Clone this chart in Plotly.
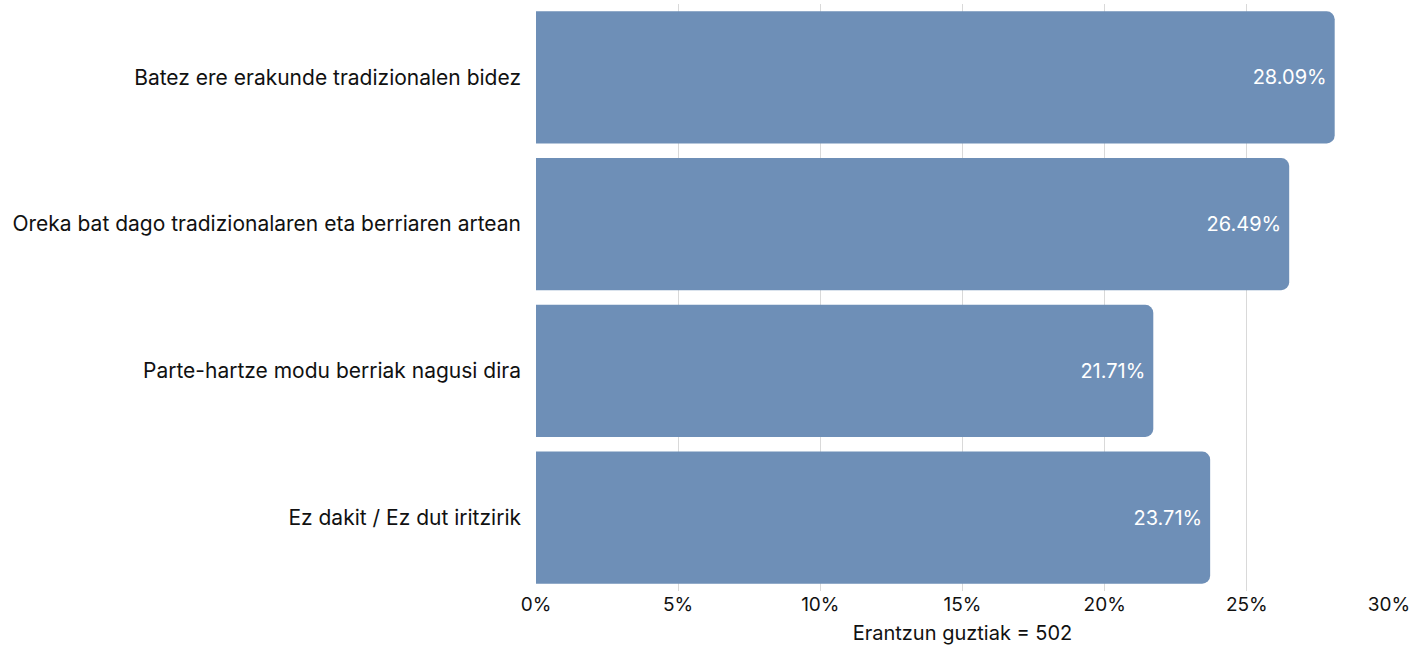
import plotly.graph_objects as go

categories = [
    "Batez ere erakunde tradizionalen bidez",
    "Oreka bat dago tradizionalaren eta berriaren artean",
    "Parte-hartze modu berriak nagusi dira",
    "Ez dakit / Ez dut iritzirik",
]
values = [28.09, 26.49, 21.71, 23.71]
tick_vals = [0, 5, 10, 15, 20, 25, 30]
tick_text = ["0%", "5%", "10%", "15%", "20%", "25%", "30%"]
x_title = "Erantzun guztiak = 502"

font_family = "Inter, Lato, sans-serif"

fig = go.Figure(
    go.Bar(
        x=values,
        y=categories,
        orientation="h",
        marker=dict(color="#6e8fb7", line=dict(width=0)),
        text=[f"{v:.2f}%" for v in values],
        textposition="inside",
        insidetextanchor="end",
        textfont=dict(color="white", size=20, family=font_family),
        hoverinfo="skip",
    )
)

fig.update_layout(
    width=1414,
    height=646,
    autosize=False,
    margin=dict(l=536, r=25, t=4, b=55, autoexpand=False),
    paper_bgcolor="white",
    plot_bgcolor="white",
    bargap=0.1,
    barcornerradius=8,
    showlegend=False,
    font=dict(family=font_family, size=18, color="#111111"),
    xaxis=dict(
        range=[0, 30],
        tickvals=tick_vals,
        ticktext=tick_text,
        showgrid=True,
        gridcolor="#d9d9d9",
        gridwidth=1,
        zeroline=False,
        showline=False,
        ticks="",
        tickfont=dict(size=19),
        title=dict(text=x_title, font=dict(size=20), standoff=10),
        automargin=False,
    ),
    yaxis=dict(
        autorange="reversed",
        showgrid=False,
        showline=False,
        ticks="",
        ticklabelstandoff=14,
        tickfont=dict(size=21),
        automargin=False,
    ),
)

fig.write_html(
    "out.html",
    config={"displayModeBar": False},
    post_script="document.body.style.margin='0';document.body.style.padding='0';",
)
